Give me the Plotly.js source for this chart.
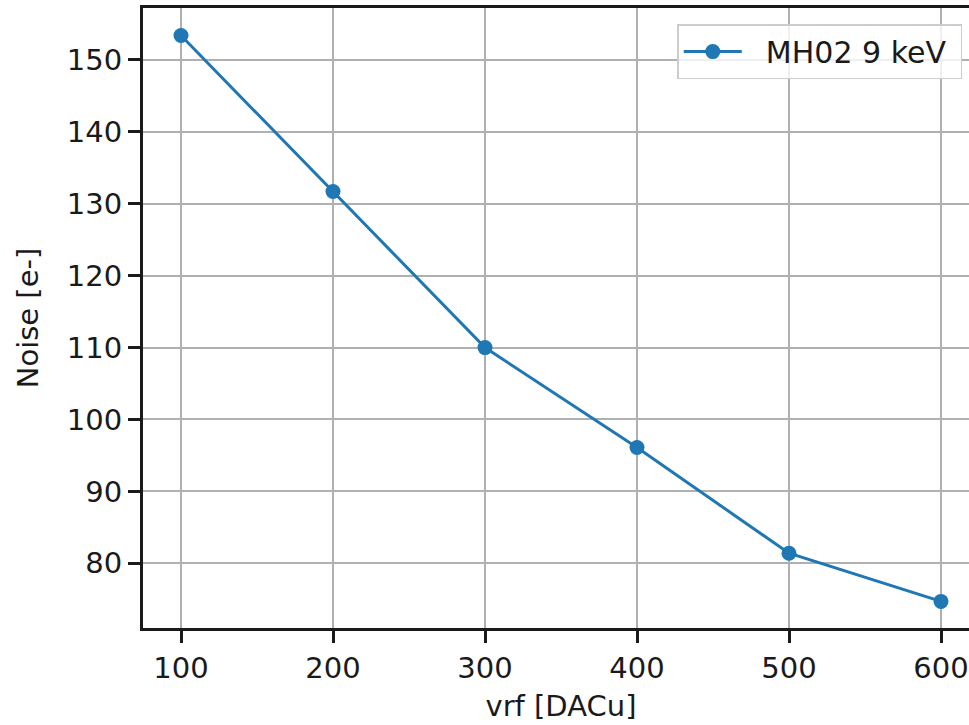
<!DOCTYPE html>
<html>
<head>
<meta charset="utf-8">
<script src="https://cdn.plot.ly/plotly-3.0.1.min.js"></script>
<style>
  html, body { margin: 0; padding: 0; overflow: hidden; background: #fff; }
  #chart { width: 990px; height: 725px; }
</style>
</head>
<body>
<div id="chart"></div>
<script>
// Noise versus vrf setting
const vrf = [100, 200, 300, 400, 500, 600];
const noise = [153.4, 131.7, 110.0, 96.1, 81.4, 74.7];
const seriesName = 'MH02 9 keV';
const xTicks = [100, 200, 300, 400, 500, 600];
const yTicks = [80, 90, 100, 110, 120, 130, 140, 150];

const FONT = 'DejaVu Sans, sans-serif';
const INK = '#1a1a1a';
const FS = 29;

const trace = {
  x: vrf,
  y: noise,
  // non-breaking spaces pad the legend entry around the label
  name: '\u00a0\u00a0' + seriesName + '\u00a0',
  type: 'scatter',
  mode: 'lines+markers',
  line: { color: '#1f77b4', width: 3 },
  marker: { color: '#1f77b4', size: 15 }
};

const axisBase = {
  showline: true,
  linecolor: INK,
  linewidth: 3,
  ticks: 'outside',
  ticklen: 12,
  tickwidth: 3,
  tickcolor: INK,
  showgrid: true,
  gridcolor: '#b0b0b0',
  gridwidth: 2,
  zeroline: false,
  tickfont: { family: FONT, size: FS, color: INK }
};

const layout = {
  width: 990,
  height: 725,
  margin: { l: 143, r: 11, t: 8, b: 97 },
  paper_bgcolor: '#ffffff',
  plot_bgcolor: '#ffffff',
  showlegend: true,
  xaxis: Object.assign({}, axisBase, {
    range: [75, 625],
    tickvals: xTicks,
    mirror: true,
    title: { text: 'vrf [DACu]', font: { family: FONT, size: FS, color: INK }, standoff: 12 }
  }),
  yaxis: Object.assign({}, axisBase, {
    range: [71.0, 157.23],
    tickvals: yTicks,
    title: { text: 'Noise [e-]', font: { family: FONT, size: FS, color: INK }, standoff: 20 }
  }),
  legend: {
    x: 0.98, y: 0.974,
    xanchor: 'right', yanchor: 'top',
    bgcolor: 'rgba(255,255,255,0.8)',
    bordercolor: '#cccccc',
    borderwidth: 1.5,
    font: { family: FONT, size: 30, color: INK },
    itemwidth: 58
  }
};

Plotly.newPlot('chart', [trace], layout, { displayModeBar: false, staticPlot: true });
</script>
</body>
</html>
